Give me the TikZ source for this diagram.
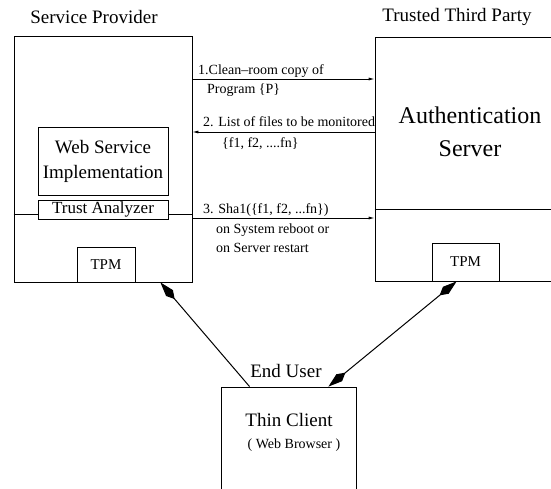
\documentclass[tikz,border=0pt]{standalone}
\usepackage{fontspec}
\setmainfont{Liberation Serif}
\usetikzlibrary{arrows.meta}

\begin{document}
\begin{tikzpicture}[
    x=1pt, y=-1pt,
    box/.style={rectangle, draw, line width=0.8pt, inner sep=0pt},
    title/.style={font=\fontsize{19}{22}\selectfont},
    lbl/.style={anchor=base west, inner sep=0pt, font=\fontsize{14}{16}\selectfont},
    msg/.style={line width=0.8pt, -{Latex[length=6pt,width=3pt]}},
    link/.style={line width=1pt, -{Kite[length=22pt,width=9pt,inset=8pt]}}
]
    \useasboundingbox (0,0) rectangle (551,488);

    % service provider side
    \node[title] (sptitle) at (94,17) {Service Provider};
    \node[box, minimum width=178pt, minimum height=246pt] (sp) at (103,159) {};
    \node[box, minimum width=130pt, minimum height=68pt, align=center,
          font=\fontsize{19}{25}\selectfont] (wsi) at (103,161) {Web Service\\Implementation};
    \node[box, minimum width=130pt, minimum height=19pt,
          font=\fontsize{17}{19}\selectfont] (ta) at (103,209.5) {Trust Analyzer};
    \node[box, minimum width=58pt, minimum height=35pt,
          font=\fontsize{15}{17}\selectfont] (tpm1) at (106,264.5) {TPM};

    % trusted third party side
    \node[title] (ttptitle) at (457,17) {Trusted Third Party};
    \node[box, minimum width=181pt, minimum height=244pt] (ttp) at (465.5,159) {};
    \node[align=center, font=\fontsize{24}{33}\selectfont] (auth) at (470,132) {Authentication\\Server};
    \node[box, minimum width=67pt, minimum height=38pt,
          font=\fontsize{15}{17}\selectfont] (tpm2) at (465.5,262) {TPM};
    \draw[line width=0.8pt] ([yshift=-50pt]ttp.west) -- ([yshift=-50pt]ttp.east);

    % end user
    \node[title] (eu) at (286,371) {End User};
    \node[box, minimum width=135pt, minimum height=107pt] (client) at (288.5,440.5) {};
    \node[font=\fontsize{19}{22}\selectfont] (tc) at (289,420) {Thin Client};
    \node[font=\fontsize{14}{16}\selectfont] (wb) at (294,445) {( Web Browser )};

    % trust analyzer taps
    \draw[line width=0.8pt] ([yshift=-55pt]sp.west) -- ([yshift=-4.5pt]ta.west);
    \draw[line width=0.8pt] ([yshift=-4.5pt]ta.east) -- ([yshift=-55pt]sp.east);

    % messages
    \draw[msg] ([yshift=80pt]sp.east) -- ([yshift=80pt]ttp.west);
    \node[lbl] (m1a) at (198,74) {1.Clean--room copy of};
    \node[lbl] (m1b) at (207,93) {Program \{P\}};

    \draw[msg] ([yshift=27pt]ttp.west) -- ([yshift=27pt]sp.east);
    \node[lbl] (m2a) at (203,126) {2. List of files to be monitored};
    \node[lbl] (m2b) at (222,147) {\{f1, f2, ....fn\}};

    \draw[msg] ([yshift=-59pt]sp.east) -- ([yshift=-59pt]ttp.west);
    \node[lbl] (m3a) at (203,213) {3. Sha1(\{f1, f2, ...fn\})};
    \node[lbl] (m3b) at (216,233) {on System reboot or};
    \node[lbl] (m3c) at (216,252) {on Server restart};

    % client links
    \draw[link] ([xshift=29pt]client.north west) -- ([xshift=-32pt]sp.south east);
    \draw[link, {Kite[length=22pt,width=9pt,inset=8pt]}-{Kite[length=22pt,width=9pt,inset=8pt]}]
        ([xshift=-28pt]client.north east) -- ([xshift=82pt]ttp.south west);
\end{tikzpicture}
\end{document}
